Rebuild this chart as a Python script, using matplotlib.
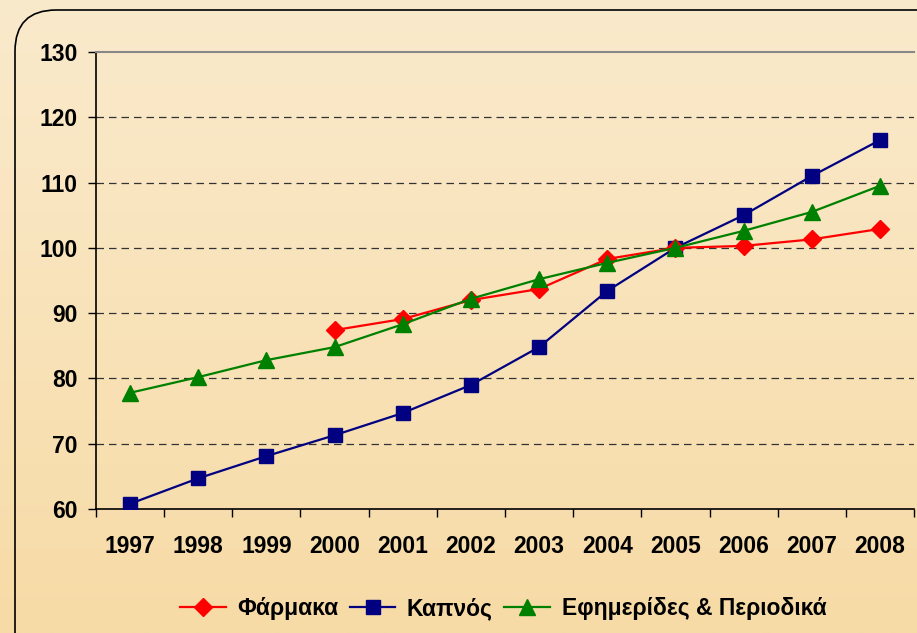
import numpy as np
import matplotlib.pyplot as plt
from matplotlib.patches import FancyBboxPatch

# ============================================================
# DATA
# ============================================================

YEARS = ["1997", "1998", "1999", "2000", "2001", "2002",
         "2003", "2004", "2005", "2006", "2007", "2008"]

PHARMAKA = [np.nan, np.nan, np.nan, 87.4, 89.1, 92.0,
            93.7, 98.3, 100.0, 100.3, 101.3, 102.9]

KAPNOS = [60.8, 64.7, 68.1, 71.3, 74.7, 79.0,
          84.8, 93.4, 100.0, 105.0, 111.0, 116.5]

EFIMERIDES = [77.8, 80.2, 82.8, 84.8, 88.3, 92.2,
              95.2, 97.7, 100.0, 102.6, 105.5, 109.5]

LABELS = ["Φάρμακα", "Καπνός", "Εφημερίδες & Περιοδικά"]

# ============================================================
# FIGURE
# ============================================================

plt.rcParams["font.family"] = ["Liberation Sans", "DejaVu Sans"]
plt.rcParams["font.weight"] = "bold"

fig = plt.figure(figsize=(9.17, 6.33), dpi=100)

# gradient background
bg = fig.add_axes([0, 0, 1, 1], zorder=-10)
top = np.array([250, 234, 204]) / 255
bot = np.array([247, 219, 166]) / 255
grad = np.linspace(0, 1, 256)[:, None, None]
img = top * (1 - grad) + bot * grad
bg.imshow(img, aspect="auto", extent=[0, 1, 0, 1])
bg.set_axis_off()

# rounded frame
frame = FancyBboxPatch(
    (15 / 917, -0.2), 1.2, 1 - 10 / 633 + 0.2,
    boxstyle="round,pad=0,rounding_size=0.045",
    transform=fig.transFigure,
    facecolor="none", edgecolor="black", linewidth=1.2,
    mutation_aspect=917 / 633,
)
fig.patches.append(frame)

ax = fig.add_axes([96 / 917, 1 - 509 / 633, (914 - 96) / 917, (509 - 52) / 633])
ax.set_facecolor("none")

x = np.arange(len(YEARS))

ax.plot(x, PHARMAKA, color="#FF0000", marker="D", markersize=9,
        linewidth=1.6, label=LABELS[0], zorder=4)
ax.plot(x, KAPNOS, color="#000080", marker="s", markersize=10,
        linewidth=1.6, label=LABELS[1], zorder=3)
ax.plot(x, EFIMERIDES, color="#008000", marker="^", markersize=11.5,
        linewidth=1.6, label=LABELS[2], zorder=5)

ax.set_xlim(-0.5, len(YEARS) - 0.5)
ax.set_ylim(60, 130)
ax.set_yticks(np.arange(60, 131, 10))
ax.set_yticklabels([str(v) for v in range(60, 131, 10)],
                   fontsize=16.5, fontweight="bold")

ax.set_xticks(x)
ax.set_xticklabels(YEARS, fontsize=16.5, fontweight="bold")
ax.set_xticks(np.arange(-0.5, len(YEARS), 1), minor=True)
ax.tick_params(axis="x", which="major", length=0, pad=19)
ax.tick_params(axis="x", which="minor", length=6, width=1, direction="out")
ax.tick_params(axis="y", length=6, width=1, direction="out", pad=7)

for v in range(70, 130, 10):
    ax.axhline(v, color="#333333", linestyle=(0, (6, 4)),
               linewidth=0.9, zorder=1)

ax.spines["right"].set_visible(False)
ax.spines["top"].set_color("#888888")
ax.spines["top"].set_linewidth(1.5)
ax.spines["left"].set_linewidth(1.2)
ax.spines["bottom"].set_linewidth(1.2)

fig.legend(
    loc="center",
    bbox_to_anchor=(503 / 917, 1 - 609 / 633),
    ncol=3,
    frameon=False,
    prop={"size": 16.5, "weight": "bold"},
    handlelength=2.0,
    handletextpad=0.5,
    columnspacing=0.5,
)

fig.savefig("out.png", dpi=100)
